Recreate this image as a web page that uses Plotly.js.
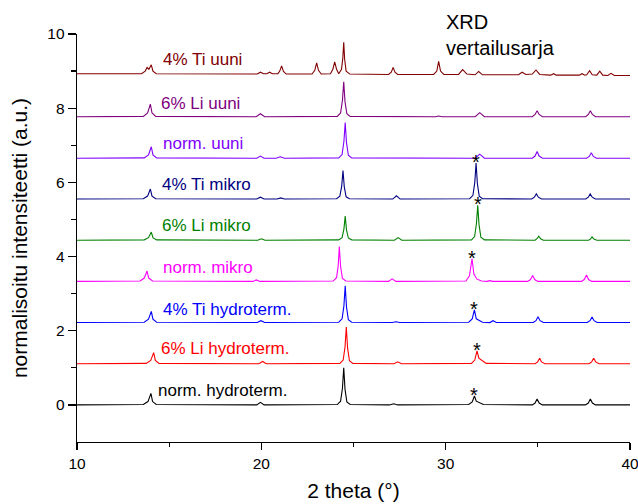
<!DOCTYPE html>
<html>
<head>
<meta charset="utf-8">
<script src="https://cdn.plot.ly/plotly-3.0.1.min.js"></script>
<style>
  html, body { margin: 0; padding: 0; background: #ffffff; }
  #chart { width: 638px; height: 504px; }
</style>
</head>
<body>
<div id="chart"></div>
<script>
// Samples, stacked from bottom to top
const sampleNames = [
  "norm. hydroterm.", "6% Li hydroterm.", "4% Ti hydroterm.",
  "norm. mikro", "6% Li mikro", "4% Ti mikro",
  "norm. uuni", "6% Li uuni", "4% Ti uuni"
];
const lineColors = ["#000000", "#ff0000", "#0000ff", "#ff00ff", "#008000",
                    "#000080", "#8000ff", "#800080", "#800000"];
// vertical offset of each pattern in the stack
const offsets = [0, 1.11, 2.22, 3.33, 4.44, 5.55, 6.65, 7.77, 8.9];

// Normalised diffractograms: 2θ (°) and intensity
const hydroNormX = [10, 13.6, 13.85, 14.01, 14.1, 14.3, 19.75, 19.95, 20.15, 24.12, 24.3, 24.4, 24.47, 24.54, 24.64, 24.82, 26.95, 27.18, 27.4, 31.25, 31.44, 31.56, 31.66, 31.82, 32.05, 34.7, 34.85, 34.96, 35.07, 35.25, 37.58, 37.74, 37.85, 37.96, 38.13, 40];
const hydroNormY = [0, 0.01, 0.09, 0.31, 0.09, 0.01, 0, 0.07, 0, 0.01, 0.1, 0.45, 1.0, 0.42, 0.08, 0.01, 0, 0.03, 0, 0.01, 0.08, 0.24, 0.1, 0.07, 0.01, 0, 0.05, 0.16, 0.05, 0, 0, 0.05, 0.16, 0.05, 0, 0];

const hydroLiX = [10, 13.75, 14.0, 14.16, 14.25, 14.45, 19.87, 20.07, 20.27, 24.26, 24.44, 24.54, 24.61, 24.68, 24.78, 24.96, 27.2, 27.4, 27.6, 31.4, 31.58, 31.7, 31.8, 31.95, 32.2, 34.85, 34.99, 35.1, 35.2, 35.38, 37.78, 37.92, 38.03, 38.14, 38.32, 40];
const hydroLiY = [0, 0.01, 0.09, 0.3, 0.09, 0.01, 0, 0.06, 0, 0.01, 0.1, 0.45, 0.99, 0.42, 0.08, 0.01, 0, 0.05, 0, 0.01, 0.1, 0.35, 0.15, 0.1, 0.01, 0, 0.05, 0.15, 0.05, 0, 0, 0.05, 0.15, 0.05, 0, 0];

const hydroTiX = [10, 13.65, 13.88, 14.03, 14.12, 14.32, 19.78, 19.98, 20.18, 24.2, 24.38, 24.48, 24.55, 24.62, 24.72, 24.9, 27.1, 27.3, 27.5, 31.25, 31.44, 31.56, 31.66, 31.8, 32.0, 32.4, 32.57, 32.75, 34.75, 34.9, 35.01, 35.12, 35.3, 37.68, 37.83, 37.94, 38.05, 38.22, 40];
const hydroTiY = [0, 0.01, 0.09, 0.3, 0.09, 0.01, 0, 0.05, 0, 0.01, 0.1, 0.45, 0.99, 0.42, 0.08, 0.01, 0, 0.02, 0, 0.01, 0.1, 0.34, 0.1, 0.07, 0.01, 0, 0.05, 0, 0, 0.05, 0.16, 0.05, 0, 0, 0.05, 0.15, 0.05, 0, 0];

const mikroNormX = [10, 13.42, 13.65, 13.8, 13.89, 14.1, 19.55, 19.73, 19.92, 20.65, 20.85, 21.05, 23.9, 24.08, 24.17, 24.23, 24.3, 24.4, 24.58, 26.9, 27.1, 27.3, 31.1, 31.29, 31.43, 31.53, 31.7, 31.95, 32.25, 32.4, 32.55, 34.45, 34.6, 34.72, 34.83, 35.0, 37.37, 37.52, 37.64, 37.75, 37.92, 40];
const mikroNormY = [0, 0.01, 0.09, 0.28, 0.09, 0.01, 0, 0.04, 0, 0, 0.02, 0, 0.01, 0.1, 0.42, 0.94, 0.4, 0.08, 0.01, 0, 0.07, 0, 0.01, 0.15, 0.61, 0.2, 0.06, 0.01, 0, 0.02, 0, 0, 0.05, 0.16, 0.05, 0, 0, 0.05, 0.17, 0.05, 0, 0];

const mikroLiX = [10, 13.65, 13.88, 14.03, 14.12, 14.32, 19.8, 20.0, 20.2, 20.9, 21.1, 21.3, 24.2, 24.38, 24.48, 24.55, 24.62, 24.72, 24.9, 27.22, 27.42, 27.62, 31.4, 31.57, 31.67, 31.74, 31.81, 31.91, 32.1, 34.85, 34.95, 35.05, 35.15, 35.3, 37.75, 37.85, 37.94, 38.04, 38.2, 40];
const mikroLiY = [0, 0.01, 0.07, 0.22, 0.07, 0.01, 0, 0.04, 0, 0, 0.02, 0, 0.01, 0.07, 0.3, 0.65, 0.28, 0.06, 0.01, 0, 0.07, 0, 0.01, 0.1, 0.45, 0.94, 0.42, 0.08, 0.01, 0, 0.04, 0.11, 0.04, 0, 0, 0.03, 0.09, 0.03, 0, 0];

const mikroTiX = [10, 13.6, 13.83, 13.98, 14.07, 14.27, 19.75, 19.95, 20.15, 20.85, 21.05, 21.25, 24.08, 24.26, 24.36, 24.43, 24.5, 24.6, 24.78, 27.13, 27.33, 27.53, 31.3, 31.48, 31.58, 31.65, 31.72, 31.82, 32.0, 34.67, 34.81, 34.92, 35.03, 35.2, 37.6, 37.74, 37.84, 37.95, 38.12, 40];
const mikroTiY = [0, 0.01, 0.08, 0.27, 0.08, 0.01, 0, 0.05, 0, 0, 0.03, 0, 0.01, 0.08, 0.35, 0.77, 0.33, 0.06, 0.01, 0, 0.09, 0, 0.01, 0.1, 0.45, 0.97, 0.42, 0.08, 0.01, 0, 0.05, 0.14, 0.05, 0, 0, 0.05, 0.14, 0.05, 0, 0];

const uuniNormX = [10, 13.65, 13.88, 14.03, 14.12, 14.32, 19.75, 19.95, 20.15, 20.8, 21.03, 21.25, 24.2, 24.38, 24.48, 24.55, 24.62, 24.72, 24.9, 31.6, 31.85, 32.1, 34.7, 34.85, 34.96, 35.07, 35.25, 37.64, 37.79, 37.9, 38.01, 38.18, 40];
const uuniNormY = [0, 0.01, 0.09, 0.31, 0.09, 0.01, 0, 0.06, 0, 0, 0.04, 0, 0.01, 0.1, 0.45, 0.96, 0.42, 0.08, 0.01, 0, 0.11, 0, 0, 0.06, 0.18, 0.06, 0, 0, 0.05, 0.15, 0.05, 0, 0];

const uuniLiX = [10, 13.6, 13.83, 13.98, 14.07, 14.27, 19.72, 19.95, 20.18, 24.12, 24.3, 24.4, 24.47, 24.54, 24.64, 24.82, 29.45, 29.62, 29.8, 31.6, 31.85, 32.1, 34.7, 34.85, 34.96, 35.07, 35.25, 37.6, 37.74, 37.85, 37.96, 38.13, 40];
const uuniLiY = [0, 0.01, 0.1, 0.34, 0.1, 0.01, 0, 0.08, 0, 0.01, 0.1, 0.44, 0.94, 0.4, 0.08, 0.01, 0, 0.02, 0, 0, 0.11, 0, 0, 0.06, 0.16, 0.06, 0, 0, 0.06, 0.16, 0.06, 0, 0];

const uuniTiX = [10, 13.5, 13.7, 13.8, 13.9, 14.03, 14.12, 14.3, 19.78, 19.95, 20.12, 20.3, 20.45, 20.6, 20.9, 21.0, 21.1, 21.2, 21.35, 22.75, 22.9, 23.0, 23.1, 23.25, 23.75, 23.88, 23.98, 24.08, 24.2, 24.35, 24.42, 24.47, 24.52, 24.6, 24.8, 26.9, 27.05, 27.15, 27.25, 27.4, 29.35, 29.52, 29.62, 29.72, 29.9, 30.7, 30.92, 31.15, 31.6, 31.79, 32.0, 33.95, 34.15, 34.35, 34.7, 34.9, 35.1, 35.7, 35.86, 36.0, 37.25, 37.4, 37.55, 37.65, 37.81, 37.95, 38.2, 38.36, 38.52, 38.8, 38.97, 39.15, 40];
const uuniTiY = [0.03, 0.03, 0.1, 0.2, 0.15, 0.27, 0.1, 0.03, 0.02, 0.07, 0.03, 0.03, 0.07, 0.03, 0.03, 0.1, 0.24, 0.09, 0.02, 0.02, 0.12, 0.32, 0.12, 0.02, 0.03, 0.15, 0.35, 0.15, 0.03, 0.15, 0.45, 0.88, 0.42, 0.1, 0.02, 0.01, 0.07, 0.2, 0.07, 0.01, 0.01, 0.1, 0.36, 0.1, 0.01, 0.01, 0.14, 0.02, 0, 0.09, 0, 0, 0.07, 0.01, 0.02, 0.13, 0.01, -0.01, 0.03, -0.01, -0.01, 0.03, -0.01, 0, 0.11, 0, -0.01, 0.1, -0.01, -0.02, 0.04, -0.02, -0.02];

const seriesX = [hydroNormX, hydroLiX, hydroTiX, mikroNormX, mikroLiX, mikroTiX, uuniNormX, uuniLiX, uuniTiX];
const seriesY = [hydroNormY, hydroLiY, hydroTiY, mikroNormY, mikroLiY, mikroTiY, uuniNormY, uuniLiY, uuniTiY];

// Reflection marked with an asterisk: pattern index, 2θ and peak intensity
const starSeries = [0, 1, 2, 3, 4, 5];
const starTheta = [31.56, 31.7, 31.56, 31.43, 31.74, 31.65];
const starPeak = [0.24, 0.35, 0.34, 0.61, 0.94, 0.97];

const FONT = 'Arial, "Liberation Sans", sans-serif';

const traces = seriesX.map((xs, i) => ({
  type: 'scatter',
  mode: 'lines',
  x: xs,
  y: seriesY[i].map(v => v + offsets[i]),
  line: { color: lineColors[i], width: 1.1 },
  hoverinfo: 'skip',
  showlegend: false
}));

// sample label placement (2θ of left edge, height of text centre)
const labelPlace = [
  [14.29, 0.40], [14.47, 1.51], [14.54, 2.58],
  [14.54, 3.71], [14.50, 4.83], [14.50, 5.93],
  [14.54, 7.05], [14.47, 8.13], [14.54, 9.30]
];

const annotations = sampleNames.map((name, i) => ({
  text: name,
  x: labelPlace[i][0], y: labelPlace[i][1],
  xref: 'x', yref: 'y',
  xanchor: 'left', yanchor: 'middle',
  showarrow: false,
  font: { family: FONT, size: 17, color: lineColors[i] }
}));

starSeries.forEach((s, k) => {
  annotations.push({
    text: '*',
    x: starTheta[k], y: starPeak[k] + offsets[s],
    xref: 'x', yref: 'y',
    xanchor: 'center', yanchor: 'bottom',
    yshift: -12,
    showarrow: false,
    font: { family: FONT, size: 20, color: '#000000' }
  });
});

annotations.push({
  text: 'XRD<br>vertailusarja',
  x: 29.91, y: 0.9975,
  xref: 'x', yref: 'paper',
  xanchor: 'left', yanchor: 'middle',
  align: 'left',
  showarrow: false,
  font: { family: FONT, size: 20, color: '#000000' }
});

const layout = {
  width: 638,
  height: 504,
  margin: { l: 77, r: 8, t: 34, b: 62 },
  paper_bgcolor: '#ffffff',
  plot_bgcolor: '#ffffff',
  font: { family: FONT, color: '#000000' },
  showlegend: false,
  xaxis: {
    range: [10, 40],
    tickvals: [10, 20, 30, 40],
    ticks: 'outside',
    ticklen: 7,
    tickwidth: 1.3,
    tickcolor: '#000000',
    ticklabeloverflow: 'allow',
    minor: { tickvals: [15, 25, 35], ticks: 'outside', ticklen: 4, tickwidth: 1.3, tickcolor: '#000000' },
    showline: true,
    linecolor: '#000000',
    linewidth: 1.3,
    showgrid: false,
    zeroline: false,
    tickfont: { family: FONT, size: 15.5, color: '#000000' },
    title: { text: '2 theta (°)', font: { family: FONT, size: 21, color: '#000000' }, standoff: 12 }
  },
  yaxis: {
    range: [-1, 10],
    tickvals: [0, 2, 4, 6, 8, 10],
    ticks: 'outside',
    ticklen: 8,
    tickwidth: 1.3,
    tickcolor: '#000000',
    ticklabeloverflow: 'allow',
    minor: { tickvals: [1, 3, 5, 7, 9], ticks: 'outside', ticklen: 5, tickwidth: 1.3, tickcolor: '#000000' },
    showline: true,
    linecolor: '#000000',
    linewidth: 1.3,
    showgrid: false,
    zeroline: false,
    tickfont: { family: FONT, size: 15.5, color: '#000000' },
    title: { text: 'normalisoitu intensiteetti (a.u.)', font: { family: FONT, size: 21, color: '#000000' }, standoff: 14 }
  },
  annotations: annotations
};

Plotly.newPlot('chart', traces, layout, { staticPlot: true, displayModeBar: false });
</script>
</body>
</html>
